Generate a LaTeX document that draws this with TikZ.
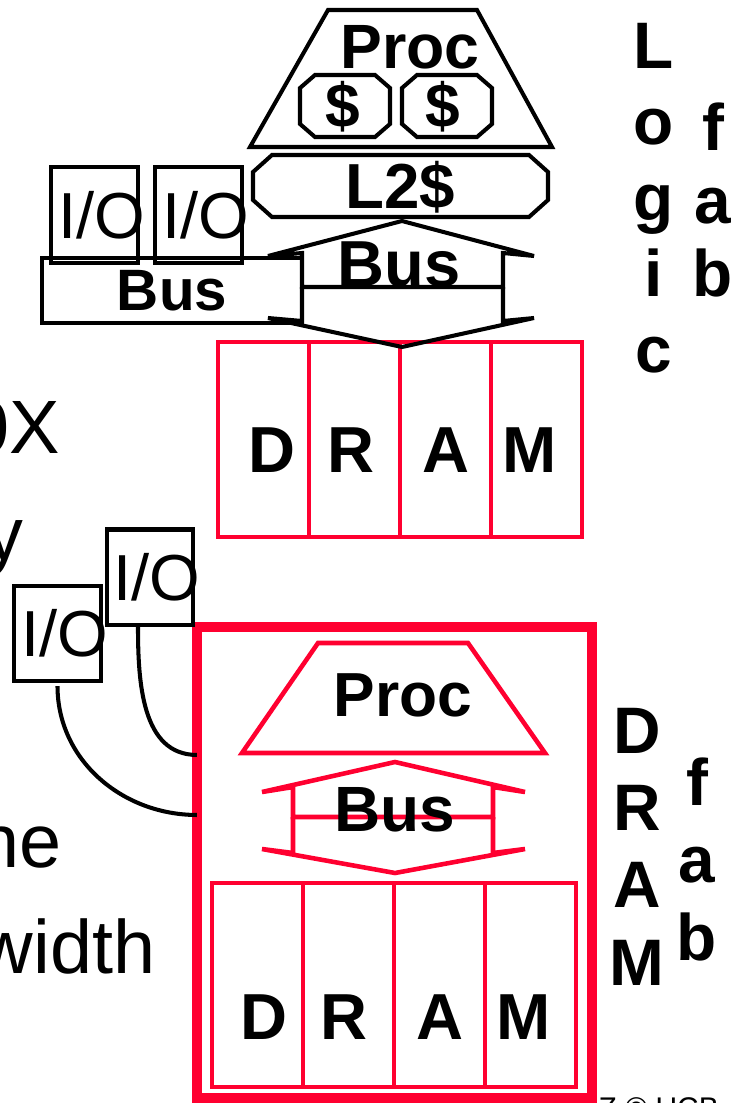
\documentclass[tikz,border=0pt]{standalone}
\usepackage{fontspec}
\setmainfont{Liberation Sans}
\usepackage{xcolor}
\usetikzlibrary{positioning}
\definecolor{dramred}{HTML}{FF0030}

\begin{document}
\begin{tikzpicture}[
 x=0.01cm,y=-0.01cm,
 node distance=0pt,
 ink/.style={draw,line width=1.15pt},
 redink/.style={draw=dramred,line width=1.3pt},
 boldtext/.style={font=\fontsize{#1}{#1}\selectfont\bfseries,inner sep=0pt},
 iobox/.style={ink,outer sep=0pt,minimum width=.86cm,minimum height=.95cm,
 label={[iotext]center:I/O}},
 iotext/.style={font=\fontsize{18.5}{20}\selectfont,inner sep=0pt,xshift=.07cm},
 cell/.style={redink,outer sep=0pt,minimum width=.91cm,minimum height=#1},
 letter/.style={font=\fontsize{18.5}{20}\selectfont\bfseries,inner sep=0pt,yshift=#1},
 column/.style={font=\fontsize{18.7}{#1}\selectfont\bfseries,align=center,
 inner sep=0pt,anchor=north},
 cut/.style={font=\fontsize{21.5}{24}\selectfont,inner sep=0pt,anchor=base east},
 chipframe/.style={draw=dramred,line width=2.85pt,outer sep=0pt,
 minimum width=3.95cm,minimum height=4.71cm}]
\useasboundingbox (0,0) rectangle (747,1103);
\clip (0,0) rectangle (747,1103);

\node[cut] (t1) at (61,453) {0X};
\node[cut] (t2) at (24,560) {y};
\node[cut] (t3) at (62,867) {he};
\node[cut] (t4) at (156,973) {width};

\draw[ink] (250,147) -- (328,10) -- (477,10) -- (552,147) -- cycle;
\node[boldtext=17.8] (proc) at (410,47) {Proc};
\draw[ink] (300,88) -- (315,75) -- (375,75) -- (390,88) -- (390,124) -- (375,137) -- (315,137) -- (300,124) -- cycle;
\draw[ink] (402,88) -- (417,75) -- (477,75) -- (492,88) -- (492,124) -- (477,137) -- (417,137) -- (402,124) -- cycle;
\node[boldtext=17.7] (l1a) at (343,107) {\$};
\node[boldtext=17.7] (l1b) at (443,107) {\$};
\draw[ink] (253,172) -- (272,155) -- (529,155) -- (548,172) -- (548,200) -- (529,217) -- (272,217) -- (253,200) -- cycle;
\node[boldtext=18.1] (l2) at (400,187) {L2\$};

\node[iobox] (io1) at (94.5,215) {};
\node[iobox] (io2) at (198.5,215) {};
\node[ink,outer sep=0pt,minimum width=2.6cm,minimum height=.55cm,
 font=\fontsize{16.6}{17}\selectfont\bfseries] (iobus) at (172,290.5) {Bus};

\node[cell=1.95cm,label={[letter=-.105cm,xshift=.08cm]center:D}] (d1) at (263.5,439.5) {};
\node[cell=1.95cm,label={[letter=-.105cm,xshift=-.04cm]center:R},right=of d1] (d2) {};
\node[cell=1.95cm,label={[letter=-.105cm]center:A},right=of d2] (d3) {};
\node[cell=1.95cm,label={[letter=-.105cm,xshift=-.07cm]center:M},right=of d3] (d4) {};

\draw[ink] (302,287) -- (302,253) -- (268,256) -- (402,221) -- (534,256) -- (503,253) -- (503,287) -- cycle;
\draw[ink] (302,287) -- (302,321) -- (268,318) -- (402,347) -- (534,318) -- (503,321) -- (503,287);
\node[boldtext=18.5] (bus) at (399,264) {Bus};

\node[column=21.6pt] (logic) at (654,23) {L\\o\\g\\i\\c};
\node[column=20.8pt] (fab1) at (713,102) {f\\a\\b};

\node[chipframe] (chip) at (394.5,862.5) {};
\draw[redink] (242,753) -- (318,643) -- (468,643) -- (545,753) -- cycle;
\node[boldtext=17.7] (proc2) at (403,695) {Proc};
\draw[redink] (293,817) -- (293,787) -- (262,792) -- (395,762) -- (525,792) -- (493,787) -- (493,817) -- cycle;
\draw[redink] (293,817) -- (293,853) -- (262,849) -- (395,873) -- (525,849) -- (493,853) -- (493,817);
\node[boldtext=18.2] (bus2) at (395,810) {Bus};

\node[cell=2.04cm,label={[letter=-.325cm,xshift=.06cm]center:D}] (e1) at (257.5,985) {};
\node[cell=2.04cm,label={[letter=-.325cm,xshift=-.05cm]center:R},right=of e1] (e2) {};
\node[cell=2.04cm,label={[letter=-.325cm]center:A},right=of e2] (e3) {};
\node[cell=2.04cm,label={[letter=-.325cm,xshift=-.07cm]center:M},right=of e3] (e4) {};

\node[iobox] (iou) at (150,577) {};
\node[iobox] (iol) at (57.5,633.5) {};
\draw[ink] ([xshift=-.12cm,yshift=-.02cm]iou.south) to[out=-90,in=180] ([yshift=1.075cm]chip.west);
\draw[ink] ([yshift=-.05cm]iol.south) to[out=-90,in=180] ([yshift=.475cm]chip.west);

\node[column=21.9pt] (dram) at (637,708) {D\\R\\A\\M};
\node[column=22pt] (fab2) at (697,757) {f\\a\\b};
\node[font=\fontsize{8.5}{10}\selectfont,anchor=base west,inner sep=0pt] (foot) at (598,1118) {Z © UCB};
\end{tikzpicture}
\end{document}
